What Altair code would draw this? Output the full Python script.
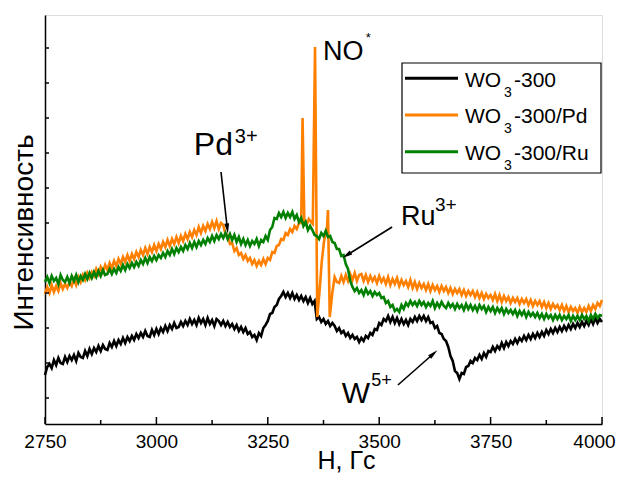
import altair as alt
import pandas as pd

# ---------------- data ----------------
SERIES = ["WO3-300", "WO3-300/Pd", "WO3-300/Ru"]
COLORS = ["#000000", "#FF8000", "#008000"]
LEGEND_PARTS = [("WO", "3", "-300"), ("WO", "3", "-300/Pd"), ("WO", "3", "-300/Ru")]

H_GRID = list(range(2750, 4001, 5))

WO3_300 = [
    47, 55, 58, 54, 62, 57, 64, 59, 58, 65,
    60, 66, 62, 67, 61, 69, 65, 64, 71, 66,
    73, 68, 74, 70, 76, 71, 77, 73, 72, 79,
    75, 81, 76, 82, 78, 84, 79, 85, 81, 86,
    82, 88, 84, 89, 85, 91, 86, 85, 92, 87,
    93, 88, 94, 90, 96, 91, 97, 93, 99, 94,
    95, 100, 96, 101, 97, 103, 98, 102, 97, 104,
    99, 103, 97, 104, 98, 102, 96, 103, 101, 97,
    101, 96, 100, 95, 98, 93, 97, 91, 95, 90,
    94, 88, 90, 85, 87, 82, 89, 86, 94, 97,
    101, 108, 109, 115, 117, 123, 126, 130, 125, 129,
    124, 129, 123, 127, 122, 126, 121, 125, 119, 124,
    118, 121, 103, 105, 100, 103, 98, 101, 96, 99,
    96, 91, 94, 89, 91, 86, 89, 84, 87, 83,
    85, 80, 84, 81, 86, 84, 89, 87, 93, 92,
    99, 97, 103, 101, 106, 100, 105, 99, 104, 98,
    103, 98, 102, 97, 103, 100, 105, 101, 106, 102,
    106, 101, 105, 99, 100, 94, 96, 89, 88, 83,
    81, 75, 66, 61, 51, 49, 43, 49, 48, 55,
    56, 61, 59, 64, 62, 67, 63, 69, 65, 71,
    70, 75, 71, 76, 73, 79, 74, 80, 76, 81,
    78, 83, 79, 84, 81, 86, 82, 87, 83, 88,
    84, 89, 85, 90, 86, 92, 88, 93, 89, 94,
    90, 95, 91, 96, 92, 97, 93, 98, 94, 99,
    95, 100, 96, 101, 97, 103, 98, 104, 99, 103,
    100,
]

WO3_300_RU = [
    140, 145, 139, 146, 141, 144, 138, 147, 142, 140,
    145, 139, 146, 141, 147, 140, 146, 142, 148, 143,
    149, 144, 150, 145, 151, 146, 152, 147, 148, 153,
    148, 153, 149, 155, 151, 157, 152, 158, 154, 159,
    155, 160, 156, 162, 158, 164, 159, 165, 161, 166,
    162, 167, 164, 169, 165, 171, 167, 173, 168, 174,
    170, 175, 171, 177, 173, 179, 174, 180, 175, 181,
    177, 182, 178, 184, 180, 186, 181, 187, 183, 188,
    184, 189, 183, 188, 182, 187, 180, 185, 178, 183,
    177, 182, 176, 181, 178, 183, 176, 182, 180, 186,
    182, 192, 195, 204, 203, 209, 205, 210, 204, 209,
    205, 210, 203, 207, 200, 204, 196, 200, 192, 196,
    192, 187, 186, 183, 189, 186, 191, 185, 186, 180,
    179, 173, 173, 166, 167, 158, 153, 141, 135, 131,
    134, 129, 132, 127, 133, 128, 131, 126, 130, 127,
    129, 124, 125, 119, 121, 115, 117, 111, 113, 110,
    117, 113, 119, 116, 121, 117, 120, 116, 121, 117,
    120, 115, 119, 116, 121, 114, 119, 115, 120, 116,
    114, 119, 115, 118, 113, 118, 114, 117, 112, 118,
    113, 117, 112, 116, 111, 117, 113, 116, 110, 115,
    111, 115, 109, 114, 110, 114, 108, 113, 109, 112,
    108, 112, 106, 111, 107, 111, 105, 110, 106, 109,
    105, 109, 104, 108, 103, 108, 104, 107, 102, 107,
    103, 107, 102, 106, 103, 107, 101, 106, 102, 106,
    102, 107, 103, 106, 101, 107, 103, 108, 104, 107,
    106,
]

PD_H_LOW = list(range(2750, 3321, 5))
PD_I_LOW = [
    128, 135, 129, 137, 130, 136, 131, 139, 133, 138,
    134, 140, 136, 143, 137, 145, 140, 147, 142, 149,
    144, 150, 146, 153, 148, 155, 150, 157, 152, 159,
    154, 161, 156, 163, 158, 165, 160, 167, 161, 168,
    163, 170, 165, 172, 167, 174, 168, 175, 170, 177,
    171, 178, 173, 180, 175, 182, 176, 183, 178, 185,
    179, 186, 181, 188, 183, 190, 185, 192, 187, 195,
    189, 196, 191, 198, 193, 200, 194, 201, 193, 199,
    197, 188, 187, 178, 179, 171, 174, 167, 169, 163,
    167, 161, 164, 158, 162, 156, 161, 157, 163, 158,
    164, 162, 170, 169, 176, 177, 183, 182, 189, 187,
    193, 190, 196, 193, 199,
]
PD_H_SPIKE = [3325, 3328, 3332, 3337, 3342, 3347, 3351, 3356, 3361, 3366,
              3371, 3376, 3380, 3383, 3385, 3389, 3395, 3400, 3405]
PD_I_SPIKE = [199, 304, 200, 197, 203, 200, 198, 375, 105, 130,
              160, 180, 190, 195, 212, 105, 130, 145, 140]
PD_H_HIGH = list(range(3410, 4001, 5))
PD_I_HIGH = [
    139, 146, 140, 147, 141, 148, 142, 149, 141, 147,
    148, 141, 147, 140, 146, 141, 145, 139, 146, 140,
    144, 138, 145, 137, 143, 138, 144, 136, 142, 137,
    141, 135, 142, 134, 140, 133, 139, 134, 138, 132,
    138, 131, 137, 132, 136, 130, 136, 131, 135, 129,
    134, 128, 133, 129, 133, 127, 132, 126, 131, 127,
    131, 125, 130, 124, 129, 123, 128, 124, 127, 122,
    128, 121, 127, 120, 126, 121, 125, 119, 124, 120,
    124, 118, 123, 119, 123, 117, 122, 116, 121, 117,
    121, 115, 120, 114, 119, 113, 118, 114, 117, 112,
    117, 111, 116, 110, 115, 111, 114, 109, 115, 110,
    114, 110, 116, 111, 117, 113, 119, 116, 122,
]

X_MAJOR = [2750, 3000, 3250, 3500, 3750, 4000]
X_MINOR = [2875, 3125, 3375, 3625, 3875]
Y_TICKS = [24, 59, 94, 129, 164, 199, 234, 269, 304, 339, 374]

# annotations (data coordinates)
ANN_TEXT = ["Pd", "3+", "NO", "*", "Ru", "3+", "W", "5+"]
ANN_H = [3084, 3176, 3374, 3470, 3549, 3625, 3416, 3482]
ANN_I = [267, 279, 362, 380, 197, 211, 19, 36]
ANN_FS = [32, 20, 27, 13, 27, 19, 30, 18]

ARROW_START_H = [3145, 3529, 3542]
ARROW_START_I = [250, 195, 37]
ARROW_HEAD_H = [3159, 3428, 3621]
ARROW_HEAD_I = [194, 167, 68]
ARROW_ANGLE = [173.5, 237.7, 48.9]

FONT = "Liberation Sans"
W, HGT = 557, 409

# ---------------- encodings ----------------
X = alt.X("H:Q",
          scale=alt.Scale(domain=[2750, 4000], nice=False, zero=False),
          axis=alt.Axis(values=X_MAJOR, format="d", labelFontSize=19, labelColor="black",
                        labelPadding=8, labelFont=FONT, ticks=False, tickSize=0,
                        labelOffset={"condition": {"test": "datum.value >= 4000", "value": -8},
                                     "value": 0},
                        domainColor="black", domainWidth=1.5, grid=False,
                        labelFlush=False, labelOverlap=False,
                        title="H, Гс", titleFontSize=25, titleFontWeight="normal",
                        titleColor="black", titleFont=FONT, titleX=301, titleY=44,
                        titleBaseline="alphabetic", titleAlign="center"))
Y = alt.Y("I:Q",
          scale=alt.Scale(domain=[-2, 407], nice=False, zero=False),
          axis=alt.Axis(labels=False, ticks=False, tickSize=0, domainColor="black",
                        domainWidth=1.5, grid=False,
                        title="Интенсивность", titleFontSize=28, titleFontWeight="normal",
                        titleColor="black", titleFont=FONT, titleAngle=270,
                        titleX=-21, titleY=217, titleBaseline="middle", titleAlign="center"))

def line_layer(hs, vals, color):
    df = pd.DataFrame({"H": hs, "I": vals})
    return alt.Chart(df).mark_line(color=color, strokeWidth=2.6).encode(x=X, y=Y)

black = line_layer(H_GRID, WO3_300, COLORS[0])
orange = line_layer(PD_H_LOW + PD_H_SPIKE + PD_H_HIGH, PD_I_LOW + PD_I_SPIKE + PD_I_HIGH, COLORS[1])
green = line_layer(H_GRID, WO3_300_RU, COLORS[2])

# inward ticks
xmaj = alt.Chart(pd.DataFrame({"H": X_MAJOR})).mark_rule(color="black", strokeWidth=1.5).encode(
    x=X, y=alt.value(HGT), y2=alt.value(HGT - 7))
xmin = alt.Chart(pd.DataFrame({"H": X_MINOR})).mark_rule(color="black", strokeWidth=1.5).encode(
    x=X, y=alt.value(HGT), y2=alt.value(HGT - 4))
yt = alt.Chart(pd.DataFrame({"I": Y_TICKS})).mark_rule(color="black", strokeWidth=1.5).encode(
    y=Y, x=alt.value(0), x2=alt.value(4))

# arrows
arr_rows = []
for k in range(3):
    arr_rows.append({"id": k, "H": ARROW_START_H[k], "I": ARROW_START_I[k]})
    arr_rows.append({"id": k, "H": ARROW_HEAD_H[k], "I": ARROW_HEAD_I[k]})
arrows = alt.Chart(pd.DataFrame(arr_rows)).mark_line(color="black", strokeWidth=1.6).encode(
    x=X, y=Y, detail="id:N")
heads = alt.Chart(pd.DataFrame({"H": ARROW_HEAD_H, "I": ARROW_HEAD_I, "ang": ARROW_ANGLE})).mark_point(
    shape="M0,-1L-0.42,0.8L0.42,0.8Z", filled=True, size=130, color="black", opacity=1
).encode(x=X, y=Y, angle=alt.Angle("ang:Q", scale=None))

ann = alt.Chart(pd.DataFrame({"H": ANN_H, "I": ANN_I, "txt": ANN_TEXT, "fs": ANN_FS})).mark_text(
    align="left", baseline="alphabetic", color="black", font=FONT
).encode(x=X, y=Y, text="txt:N", size=alt.Size("fs:Q", scale=None, legend=None))

# legend (drawn by hand to render the subscript)
leg_df = pd.DataFrame({"series": SERIES})
legend_layers = [
    alt.Chart(leg_df.head(1)).mark_rect(fill="white", stroke="black", strokeWidth=1.2).encode(
        x=alt.value(357), x2=alt.value(556), y=alt.value(48), y2=alt.value(158))
]
for i, (name, parts) in enumerate(zip(SERIES, LEGEND_PARTS)):
    row = pd.DataFrame({"series": [name], "a": [parts[0]], "b": [parts[1]], "c": [parts[2]]})
    yc = 63.3 + 36.7 * i
    yb = 71.7 + 36.7 * i
    legend_layers.append(alt.Chart(row).mark_rule(color=COLORS[i], strokeWidth=3).encode(
        x=alt.value(360), x2=alt.value(413), y=alt.value(yc)))
    legend_layers.append(alt.Chart(row).mark_text(align="left", baseline="alphabetic", fontSize=21,
                                                  font=FONT, color="black").encode(
        x=alt.value(420), y=alt.value(yb), text="a:N"))
    legend_layers.append(alt.Chart(row).mark_text(align="left", baseline="alphabetic", fontSize=14,
                                                  font=FONT, color="black").encode(
        x=alt.value(459), y=alt.value(yb + 10), text="b:N"))
    legend_layers.append(alt.Chart(row).mark_text(align="left", baseline="alphabetic", fontSize=21,
                                                  font=FONT, color="black").encode(
        x=alt.value(469), y=alt.value(yb), text="c:N"))

chart = alt.layer(black, orange, green, xmaj, xmin, yt, arrows, heads, ann, *legend_layers).properties(
    width=W, height=HGT,
    autosize=alt.AutoSizeParams(type="none"),
    padding={"left": 37, "top": 7, "right": 14, "bottom": 50},
).configure_view(stroke=None).configure(font=FONT)

chart.save("out.html", embed_options={"renderer": "svg", "actions": False})
